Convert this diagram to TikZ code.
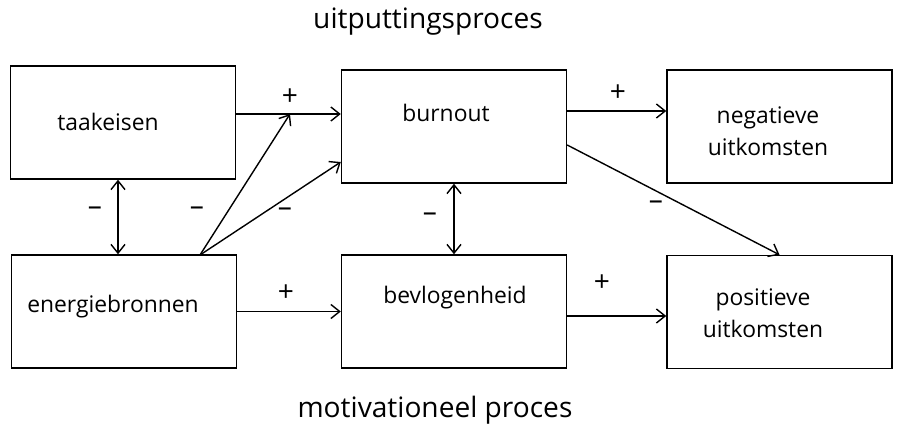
\documentclass[tikz,border=0pt]{standalone}
\usepackage{fontspec}
\setmainfont{Open Sans}
\usetikzlibrary{arrows.meta}

\begin{document}
\begin{tikzpicture}[line width=0.8pt,
            box/.style={draw,minimum width=4.5cm,minimum height=2.26cm,inner sep=0pt},
            txt/.style={font=\fontsize{13}{18}\selectfont,align=center,inner sep=1pt},
            sgn/.style={font=\fontsize{16}{18}\selectfont,inner sep=1pt},
            >={Straight Barb[length=5pt,width=8pt]}]
            \useasboundingbox(0,0)rectangle(17.94,-8.64);
            \node(boven)at(8.56,-0.44){\fontsize{16}{19}\selectfont uitputtingsproces};
            \node(onder)at(8.7,-8.2){\fontsize{16}{19}\selectfont motivationeel proces};
            \node[box](taak)at(2.46,-2.45){};
            \node[box](energie)at(2.48,-6.23){};
            \node[box](burnout)at(9.08,-2.53){};
            \node[box](bevlog)at(9.08,-6.23){};
            \node[box](neg)at(15.59,-2.53){};
            \node[box](pos)at(15.59,-6.24){};
            \node[txt](taaktxt)at(2.16,-2.44){taakeisen};
            \node[txt](energietxt)at(2.26,-6.14){energiebronnen};
            \node[txt](burnouttxt)at(8.92,-2.26){burnout};
            \node[txt](bevlogtxt)at(9.1,-5.96){bevlogenheid};
            \node[txt](negtxt)at(15.36,-2.62){negatieve\\uitkomsten};
            \node[txt](postxt)at(15.26,-6.26){positieve\\uitkomsten};
            \coordinate(bron)at(4,-5.1);
            \coordinate(knik)at(5.8,-2.28);
            \draw[->](taak.east|-knik)--(burnout.west|-knik);
            \draw[->](bron)--(knik);
            \draw[->](bron)--(burnout.west|-0,-3.24);
            \draw[<->](taak.south-|2.36,0)--(energie.north-|2.36,0);
            \draw[->](energie)--(bevlog);
            \draw[<->](burnout)--(bevlog);
            \draw[->](burnout.east|-0,-2.22)--(neg.west|-0,-2.22);
            \draw[->](burnout.east|-0,-2.9)--(pos.north);
            \draw[->](bevlog.east|-0,-6.32)--(pos.west|-0,-6.32);
            \node[sgn](p1)at(5.8,-1.94){+};
            \node[sgn](m1)at(1.9,-4.22){–};
            \node[sgn](m2)at(3.94,-4.22){–};
            \node[sgn](m3)at(5.7,-4.24){–};
            \node[sgn](p2)at(5.72,-5.86){+};
            \node[sgn](m4)at(8.6,-4.34){–};
            \node[sgn](p3)at(12.36,-1.86){+};
            \node[sgn](m5)at(13.12,-4.1){–};
            \node[sgn](p4)at(12.04,-5.66){+};
        \end{tikzpicture}
\end{document}
